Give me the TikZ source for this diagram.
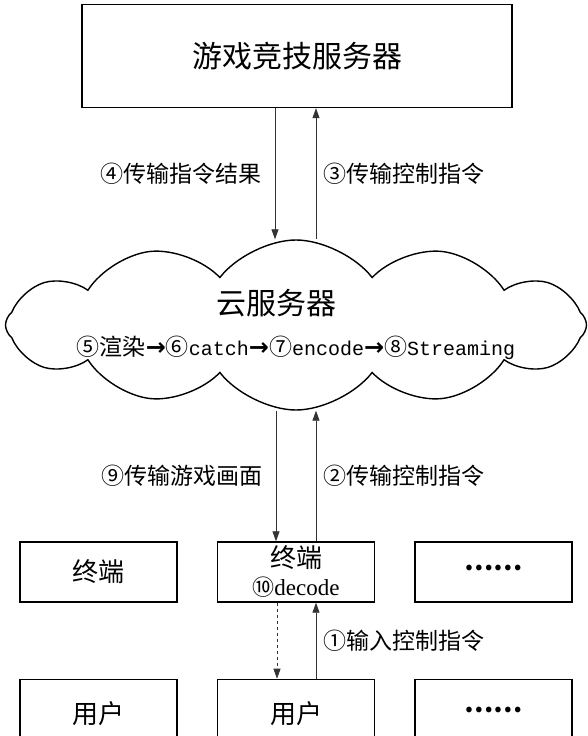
\documentclass[tikz,border=0pt]{standalone}
\usepackage{fontspec}
\setmainfont{Noto Sans CJK SC}
\newfontfamily\monofnt{Liberation Mono}
\newfontfamily\seriffnt{Liberation Serif}
\newfontfamily\arrowfnt{DejaVu Sans}
\usetikzlibrary{positioning}
\usetikzlibrary{shapes.symbols}
\usetikzlibrary{arrows.meta}

\newcommand{\fsz}[1]{\fontsize{#1}{#1}\selectfont}
\newcommand{\arw}{{\arrowfnt\bfseries\fsz{24}→}}
\newcommand{\lat}[1]{{\monofnt\fsz{20}#1}}
\newcommand{\more}{\raisebox{8pt}{\bfseries……}}

\begin{document}
\begin{tikzpicture}[x=1pt,y=-1pt,align=center,
	box/.style={rectangle,draw=black,line width=1.4pt,minimum width=157pt,minimum height=60pt,font=\fsz{26}},
	flow/.style={draw=black!80,line width=0.8pt,-{Triangle[length=10pt,width=7pt]}},
	tag/.style={font=\fsz{23},text=black},
	node distance = 76pt and 39pt]
		\useasboundingbox (0,0) rectangle (588,736);
		\node[box,minimum width=430pt,minimum height=103pt,font=\fsz{30}] (game) at (297,56){游戏竞技服务器};
		\node[cloud,draw=black,line width=1.4pt,cloud puffs=12,cloud puff arc=105,shape border rotate=15,cloud ignores aspect,minimum width=581pt,minimum height=170pt] (cloud) at (296,325){};
		\node[font=\fsz{30}] (cloudname) at (276,303){云服务器};
		\node[font=\fsz{23}] (pipeline) at (296,348){⑤渲染\arw⑥\lat{catch}\arw⑦\lat{encode}\arw⑧\lat{Streaming}};
		\node[box] (term2) at (296,572){终端\\[2pt]{\fsz{22}⑩}{\seriffnt\fsz{23}decode}};
		\node[box] (term1)[left = of term2]{终端};
		\node[box] (term3)[right = of term2]{\more};
		\node[box,minimum height=68pt] (user2)[below = of term2]{用户};
		\node[box,minimum height=68pt] (user1)[below = of term1]{用户};
		\node[box,minimum height=68pt] (user3)[below = of term3]{\more};
		\draw[flow] ([xshift=-22pt]game.south) -- ([xshift=-22pt]game.south |- cloud.north) node[midway,left=10pt,tag]{④传输指令结果};
		\draw[flow] ([xshift=19pt]game.south |- cloud.north) -- ([xshift=19pt]game.south) node[midway,right=4pt,tag]{③传输控制指令};
		\draw[flow] ([xshift=-20pt]term2.north |- cloud.south) -- ([xshift=-20pt]term2.north) node[midway,left=10pt,tag]{⑨传输游戏画面};
		\draw[flow] ([xshift=20pt]term2.north) -- ([xshift=20pt]term2.north |- cloud.south) node[midway,right=4pt,tag]{②传输控制指令};
		\draw[flow,dashed] ([xshift=-19pt]term2.south) -- ([xshift=-19pt]user2.north);
		\draw[flow] ([xshift=20pt]user2.north) -- ([xshift=20pt]term2.south) node[midway,right=4pt,tag]{①输入控制指令};
	\end{tikzpicture}
\end{document}
